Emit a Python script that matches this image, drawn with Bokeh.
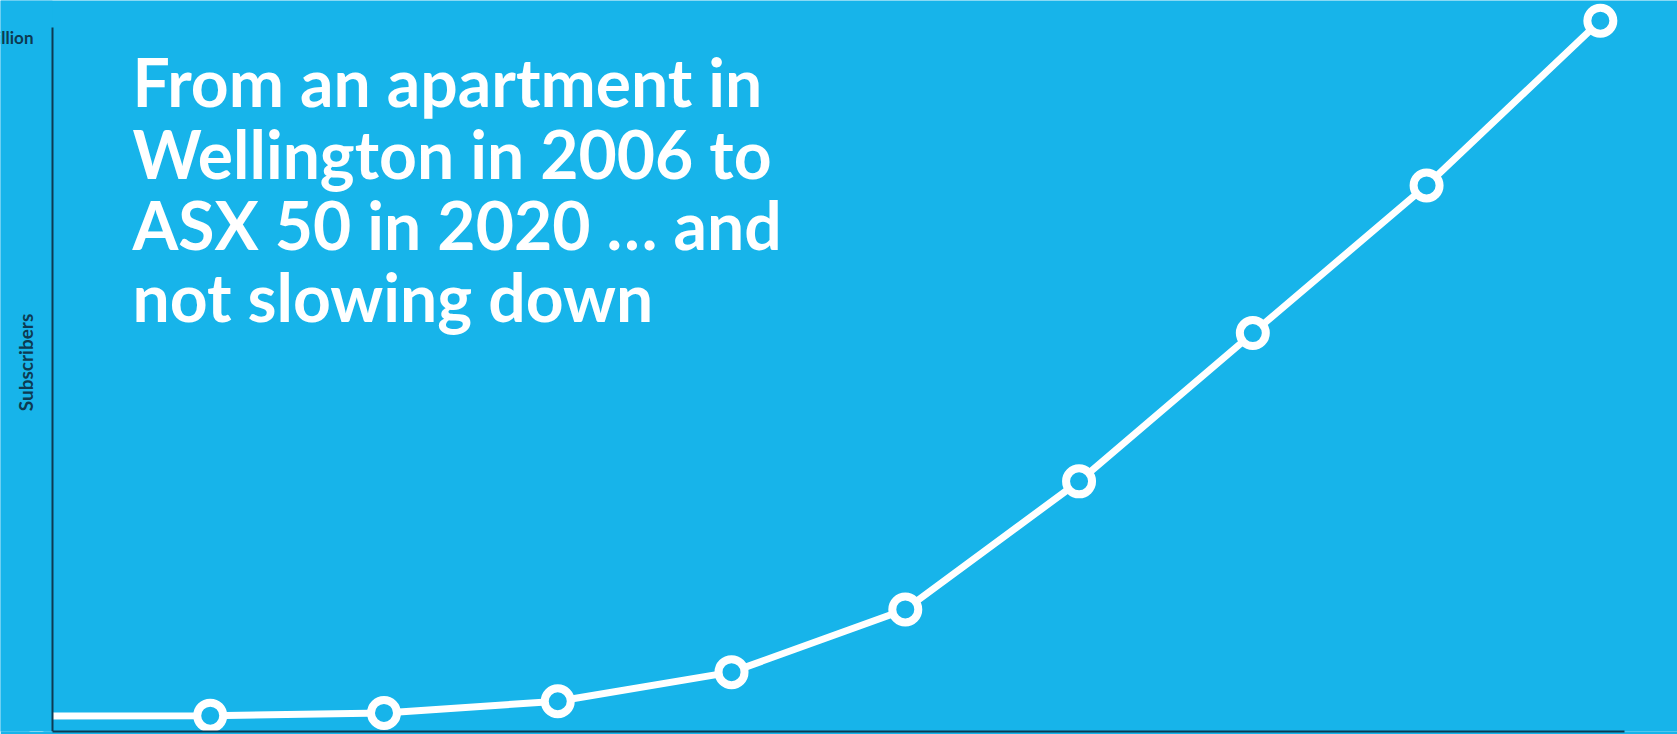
import math
from bokeh.plotting import figure
from bokeh.models import Range1d, Label, ColumnDataSource, BoxAnnotation
from bokeh.embed import file_html
from bokeh.resources import INLINE

# ---- data ----
years = [2011, 2012, 2013, 2014, 2015, 2016, 2017, 2018, 2019, 2020]
subscribers_m = [0.019, 0.020, 0.028, 0.062, 0.147, 0.330, 0.704, 1.137, 1.568, 2.049]
y_ticks = [2.0]
y_tick_labels = {2: "2 million"}
y_axis_title = "Subscribers"
headline = ["From an apartment in",
            "Wellington in 2006 to",
            "ASX 50 in 2020 \u2026 and",
            "not slowing down"]

BG = "#17b4ea"
AXIS = "#0d3a52"
FONT = "Lato"
X_AXIS = 2011.092   # where the y axis crosses

src = ColumnDataSource(dict(year=years, subs=subscribers_m))

p = figure(width=1677, height=734, output_backend="svg", toolbar_location=None,
           x_range=Range1d(2010.793, 2020.444), y_range=Range1d(-0.0263, 2.108),
           min_border_left=0, min_border_right=0, min_border_top=0, min_border_bottom=3,
           background_fill_color=BG, border_fill_color=BG, outline_line_color=None)

p.grid.visible = False

# series
p.line("year", "subs", source=src, line_color="white", line_width=7)
p.scatter("year", "subs", source=src, size=26, marker="circle",
          fill_color=BG, line_color="white", line_width=8)

# hide anything left of the y axis (the series runs in from the left)
p.add_layout(BoxAnnotation(right=X_AXIS, fill_color=BG, fill_alpha=1.0,
                           line_alpha=0, level="glyph"))

# x axis: plain line
xa = p.xaxis[0]
xa.ticker = []
xa.major_tick_out = 0
xa.major_tick_in = 0
xa.minor_tick_out = 0
xa.minor_tick_in = 0
xa.major_label_standoff = 0
xa.axis_line_color = AXIS
xa.axis_line_width = 2
xa.bounds = (X_AXIS, 2020.14)

# y axis inside the frame at X_AXIS
ya = p.yaxis[0]
ya.fixed_location = X_AXIS
ya.ticker = y_ticks
ya.major_label_overrides = y_tick_labels
ya.major_tick_out = 0
ya.major_tick_in = 0
ya.minor_tick_out = 0
ya.minor_tick_in = 0
ya.major_label_standoff = 19
ya.major_label_text_font = FONT
ya.major_label_text_font_style = "bold"
ya.major_label_text_font_size = "17px"
ya.major_label_text_color = AXIS
ya.axis_line_color = AXIS
ya.axis_line_width = 2
ya.bounds = (-0.0263, 2.029)

# y axis title
p.add_layout(Label(x=25, y=369, x_units="screen", y_units="screen",
                   text=y_axis_title, angle=math.pi / 2,
                   text_align="center", text_baseline="middle",
                   text_font=FONT, text_font_style="bold", text_font_size="19px",
                   text_color=AXIS))

# headline
baselines = [81, 152.5, 224, 295.5]
for line, b in zip(headline, baselines):
    p.add_layout(Label(x=132, y=731 - b, x_units="screen", y_units="screen",
                       text=line, text_align="left", text_baseline="alphabetic",
                       text_font=FONT, text_font_style="bold", text_font_size="66px",
                       text_color="white"))

open("out.html", "w").write(file_html(p, INLINE))
